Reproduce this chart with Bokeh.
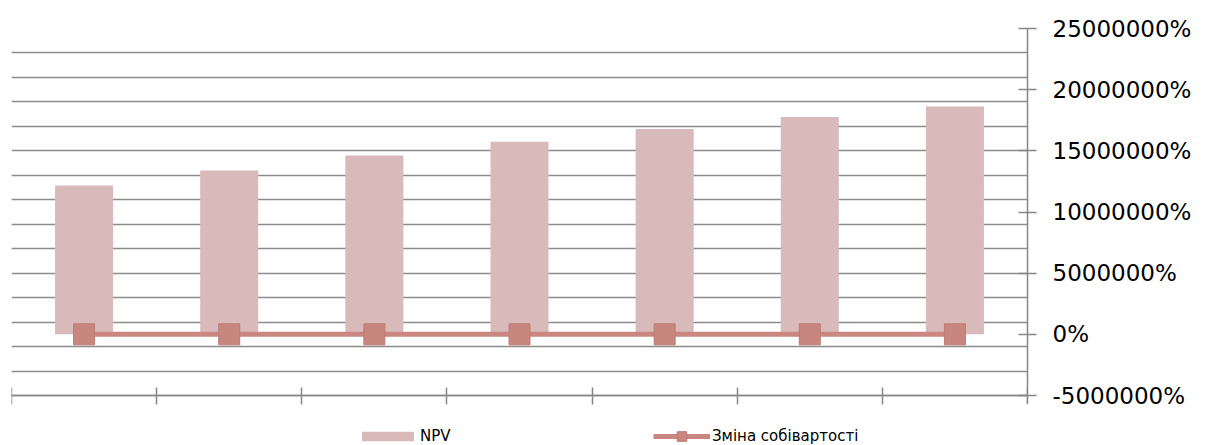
from bokeh.plotting import figure
from bokeh.models import (Range1d, FixedTicker, NumeralTickFormatter, Legend, LegendItem,
                          CustomJSTickFormatter, LinearAxis)
from bokeh.embed import file_html
from bokeh.resources import INLINE

# ---- data ----
periods = ["1", "2", "3", "4", "5", "6", "7"]
npv = [121600, 133900, 146200, 157500, 167900, 177600, 186300]
cost_change = [0.0, 0.0, 0.0, 0.0, 0.0, 0.0, 0.0]
y_ticks = [-50000, 0, 50000, 100000, 150000, 200000, 250000]
grid_ticks = [-50000, -30000, -10000, 10000, 30000, 50000, 70000, 90000,
              110000, 130000, 150000, 170000, 190000, 210000, 230000, 250000]
series_names = ["NPV", "Зміна собівартості"]

x = [i + 0.5 for i in range(len(periods))]

# layout (pixels): axis spans from page y=28 (top) to y=395 (bottom); figure goes to H
H = 445
top_px, axis_bottom_px = 28, 395
y_lo, y_hi = y_ticks[0], y_ticks[-1]
units_per_px = (y_hi - y_lo) / (axis_bottom_px - top_px)
y_start = y_lo - (H - axis_bottom_px) * units_per_px

p = figure(width=1200, height=H, output_backend="svg", toolbar_location=None,
           x_range=Range1d(0, len(periods)), y_range=Range1d(y_start, y_hi),
           y_axis_location="right", x_axis_location=None,
           min_border_left=11, min_border_top=top_px, min_border_bottom=0, min_border_right=173)
p.outline_line_color = None
p.background_fill_color = "white"
p.border_fill_color = "white"

bars = p.vbar(x=x, top=npv, bottom=0, width=0.4, fill_color="#d9babb", line_color=None)
ln = p.line(x, cost_change, line_color="#c9877f", line_width=5)
mk = p.scatter(x, cost_change, marker="square", size=21, fill_color="#c8867e",
               line_color="#bd7b73", line_width=1)

grey = "#868686"
ya = p.yaxis[0]
ya.ticker = FixedTicker(ticks=y_ticks)
ya.formatter = NumeralTickFormatter(format="0%")
ya.bounds = (y_lo - 8 * units_per_px, y_hi)
ya.major_tick_in = 9
ya.major_tick_out = 9
ya.minor_tick_line_color = None
ya.axis_line_color = grey
ya.axis_line_width = 1.5
ya.major_tick_line_color = grey
ya.major_tick_line_width = 1.5
ya.major_label_text_font = "DejaVu Sans"
ya.major_label_text_font_size = "23px"
ya.major_label_text_color = "black"
ya.major_label_standoff = 16

xa = LinearAxis(fixed_location=y_lo)
xa.ticker = FixedTicker(ticks=list(range(len(periods) + 1)))
xa.formatter = CustomJSTickFormatter(code="return ''")
xa.major_tick_in = 8
xa.major_tick_out = 9
xa.major_label_standoff = 0
xa.minor_tick_line_color = None
xa.axis_line_color = grey
xa.axis_line_width = 1.5
xa.major_tick_line_color = grey
xa.major_tick_line_width = 1.5
p.add_layout(xa, "below")

p.xgrid.visible = False
p.ygrid.ticker = FixedTicker(ticks=grid_ticks)
p.ygrid.grid_line_color = "#8c8c8c"
p.ygrid.grid_line_width = 1.5

common = dict(padding=0, margin=0, border_line_color=None, background_fill_alpha=0,
              label_text_font="DejaVu Sans", label_text_font_size="15px",
              label_text_color="black", spacing=0)
leg1 = Legend(items=[LegendItem(label=series_names[0], renderers=[bars])],
              location=(344, 0), glyph_width=65, glyph_height=12, label_standoff=0, **common)
leg2 = Legend(items=[LegendItem(label=series_names[1], renderers=[ln, mk])],
              location=(642, -3), glyph_width=57, glyph_height=24, label_standoff=2, **common)
p.add_layout(leg1)
p.add_layout(leg2)

open("out.html", "w").write(file_html(p, INLINE))
